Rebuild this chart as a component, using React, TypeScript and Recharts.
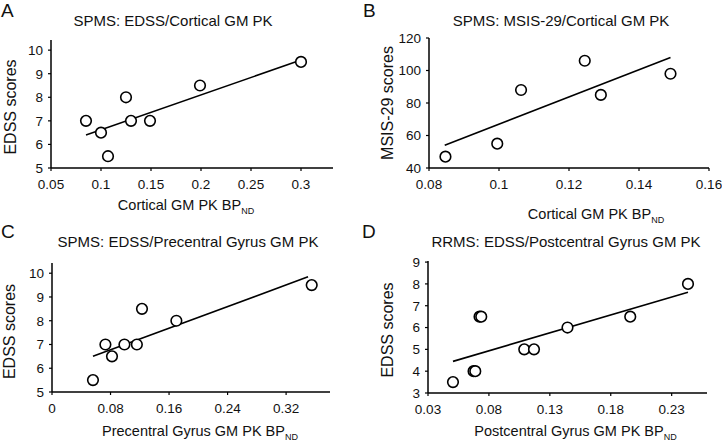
import React from 'react'
import { ScatterChart, Scatter, XAxis, YAxis } from 'recharts'

const FONT = '"Liberation Sans", Arial, Helvetica, sans-serif'

// Panel A – SPMS: EDSS vs cortical GM PK
const aX = [0.085, 0.1, 0.107, 0.125, 0.13, 0.149, 0.199, 0.3]
const aY = [7, 6.5, 5.5, 8, 7, 7, 8.5, 9.5]
const aFitX = [0.085, 0.3]
const aFitY = [6.4, 9.58]
const aXTicks = [0.05, 0.1, 0.15, 0.2, 0.25, 0.3]
const aYTicks = [5, 6, 7, 8, 9, 10]

// Panel B – SPMS: MSIS-29 vs cortical GM PK
const bX = [0.0847, 0.0995, 0.1063, 0.1245, 0.1291, 0.149]
const bY = [47, 55, 88, 106, 85, 98]
const bFitX = [0.0845, 0.149]
const bFitY = [54, 108]
const bXTicks = [0.08, 0.1, 0.12, 0.14, 0.16]
const bYTicks = [40, 60, 80, 100, 120]

// Panel C – SPMS: EDSS vs precentral gyrus GM PK
const cX = [0.056, 0.073, 0.082, 0.099, 0.116, 0.123, 0.17, 0.355]
const cY = [5.5, 7, 6.5, 7, 7, 8.5, 8, 9.5]
const cFitX = [0.056, 0.35]
const cFitY = [6.5, 9.85]
const cXTicks = [0, 0.08, 0.16, 0.24, 0.32]
const cYTicks = [5, 6, 7, 8, 9, 10]

// Panel D – RRMS: EDSS vs postcentral gyrus GM PK
const dX = [0.0505, 0.0674, 0.0688, 0.0723, 0.0737, 0.109, 0.117, 0.1445, 0.196, 0.2434]
const dY = [3.5, 4, 4, 6.5, 6.5, 5, 5, 6, 6.5, 8]
const dFitX = [0.0505, 0.2434]
const dFitY = [4.45, 7.62]
const dXTicks = [0.03, 0.08, 0.13, 0.18, 0.23]
const dYTicks = [3, 4, 5, 6, 7, 8, 9]

const zip = (xs: number[], ys: number[]) => xs.map((x, i) => ({ x, y: ys[i] }))

const Ring = (p: any) => (
  <circle cx={p.cx} cy={p.cy} r={5.3} fill="#fff" stroke="#000" strokeWidth={1.6} />
)
const NoDot = () => <g />

interface PanelProps {
  left: number
  top: number
  height: number
  pts: { x: number; y: number }[]
  fit: { x: number; y: number }[]
  xDomain: [number, number]
  yDomain: [number, number]
  xTicks: number[]
  yTicks: number[]
  plotLeft: number
  plotTop: number
  plotRight: number
  plotBottom: number
  xLabel: string
  xLabelDx: number
  xLabelDy: number
  yLabel: string
  yLabelX: number
  yLabelDy: number
}

function Panel(p: PanelProps) {
  const W = 361
  const H = p.height
  const tickStyle = { fill: '#111', fontSize: 13.5, fontFamily: FONT }
  return (
    <div style={{ position: 'absolute', left: p.left, top: p.top }}>
      <ScatterChart
        width={W}
        height={H}
        margin={{ top: p.plotTop, right: W - p.plotRight, bottom: 0, left: 0 }}
      >
        <XAxis
          type="number"
          dataKey="x"
          domain={p.xDomain}
          ticks={p.xTicks}
          allowDataOverflow
          interval={0}
          height={H - p.plotBottom}
          tickSize={3}
          tickMargin={8}
          axisLine={{ stroke: '#000', strokeWidth: 1.5 }}
          tickLine={{ stroke: '#000', strokeWidth: 1.2 }}
          tick={tickStyle}
          label={{
            content: (lp: any) => {
              const vb = lp.viewBox || {}
              return (
                <text
                  x={vb.x + vb.width / 2 + p.xLabelDx}
                  y={vb.y + p.xLabelDy}
                  textAnchor="middle"
                  fill="#111"
                  fontSize={14.5}
                  fontFamily={FONT}
                >
                  <tspan>{p.xLabel}</tspan>
                  <tspan fontSize={9} dy={3.5}>ND</tspan>
                </text>
              )
            },
          }}
        />
        <YAxis
          type="number"
          dataKey="y"
          domain={p.yDomain}
          ticks={p.yTicks}
          allowDataOverflow
          interval={0}
          width={p.plotLeft}
          tickSize={3}
          tickMargin={5}
          axisLine={{ stroke: '#000', strokeWidth: 1.5 }}
          tickLine={{ stroke: '#000', strokeWidth: 1.2 }}
          tick={tickStyle}
          label={{
            content: (lp: any) => {
              const vb = lp.viewBox || {}
              const x = vb.x + p.yLabelX
              const y = vb.y + vb.height / 2 + p.yLabelDy
              return (
                <text
                  x={x}
                  y={y}
                  transform={`rotate(-90, ${x}, ${y})`}
                  textAnchor="middle"
                  fill="#111"
                  fontSize={16}
                  fontFamily={FONT}
                >
                  {p.yLabel}
                </text>
              )
            },
          }}
        />
        <Scatter
          data={p.fit}
          line={{ stroke: '#000', strokeWidth: 1.6 }}
          shape={NoDot}
          isAnimationActive={false}
        />
        <Scatter data={p.pts} shape={Ring} isAnimationActive={false} />
      </ScatterChart>
    </div>
  )
}

export default function App() {
  const txt = { fill: '#111', fontFamily: FONT }
  return (
    <div
      style={{
        position: 'absolute',
        left: 0,
        top: 0,
        width: 723,
        height: 442,
        background: '#fff',
        overflow: 'hidden',
      }}
    >
      <Panel
        left={0}
        top={0}
        height={232}
        pts={zip(aX, aY)}
        fit={zip(aFitX, aFitY)}
        xDomain={[0.05, 0.332]}
        yDomain={[5, 10.43]}
        xTicks={aXTicks}
        yTicks={aYTicks}
        plotLeft={51}
        plotTop={40}
        plotRight={333}
        plotBottom={168}
        xLabel="Cortical GM PK BP"
        xLabelDx={-6}
        xLabelDy={42}
        yLabel="EDSS scores"
        yLabelX={16}
        yLabelDy={3}
      />
      <Panel
        left={361}
        top={0}
        height={232}
        pts={zip(bX, bY)}
        fit={zip(bFitX, bFitY)}
        xDomain={[0.08, 0.16]}
        yDomain={[40, 120]}
        xTicks={bXTicks}
        yTicks={bYTicks}
        plotLeft={68}
        plotTop={38}
        plotRight={348}
        plotBottom={168}
        xLabel="Cortical GM PK BP"
        xLabelDx={27}
        xLabelDy={51}
        yLabel="MSIS-29 scores"
        yLabelX={32}
        yLabelDy={0}
      />
      <Panel
        left={0}
        top={221}
        height={221}
        pts={zip(cX, cY)}
        fit={zip(cFitX, cFitY)}
        xDomain={[0, 0.38]}
        yDomain={[5, 10.43]}
        xTicks={cXTicks}
        yTicks={cYTicks}
        plotLeft={52}
        plotTop={42}
        plotRight={330}
        plotBottom={171}
        xLabel="Precentral Gyrus GM PK BP"
        xLabelDx={9}
        xLabelDy={44}
        yLabel="EDSS scores"
        yLabelX={15}
        yLabelDy={4}
      />
      <Panel
        left={361}
        top={221}
        height={221}
        pts={zip(dX, dY)}
        fit={zip(dFitX, dFitY)}
        xDomain={[0.03, 0.259]}
        yDomain={[3, 9.05]}
        xTicks={dXTicks}
        yTicks={dYTicks}
        plotLeft={67}
        plotTop={40}
        plotRight={346}
        plotBottom={172}
        xLabel="Postcentral Gyrus GM PK BP"
        xLabelDx={8}
        xLabelDy={43}
        yLabel="EDSS scores"
        yLabelX={32}
        yLabelDy={3}
      />
      <svg
        width={723}
        height={442}
        style={{ position: 'absolute', left: 0, top: 0, pointerEvents: 'none' }}
      >
        <text x={1} y={17} fontSize={19} {...txt}>A</text>
        <text x={173} y={26} fontSize={15} textAnchor="middle" {...txt}>SPMS: EDSS/Cortical GM PK</text>
        <text x={363} y={17} fontSize={19} {...txt}>B</text>
        <text x={561} y={26} fontSize={15} textAnchor="middle" {...txt}>SPMS: MSIS-29/Cortical GM PK</text>
        <text x={1} y={238} fontSize={19} {...txt}>C</text>
        <text x={188} y={247} fontSize={15} textAnchor="middle" {...txt}>SPMS: EDSS/Precentral Gyrus GM PK</text>
        <text x={362} y={238} fontSize={19} {...txt}>D</text>
        <text x={566} y={247} fontSize={15} textAnchor="middle" {...txt}>RRMS: EDSS/Postcentral Gyrus GM PK</text>
      </svg>
    </div>
  )
}
